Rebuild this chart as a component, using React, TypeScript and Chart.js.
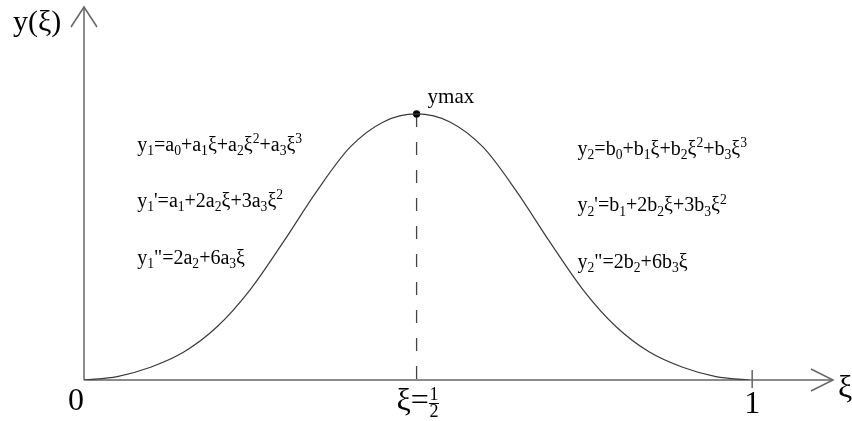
import { useEffect, useRef } from 'react';
import { Chart, registerables } from 'chart.js';

Chart.register(...registerables);

// ---- data (ξ in [0,1], y as a fraction of ymax) ----
const XI = [0, 0.05, 0.1, 0.15, 0.2, 0.25, 0.3, 0.35, 0.4, 0.45, 0.5, 0.55, 0.6, 0.65, 0.7, 0.75, 0.8, 0.85, 0.9, 0.95, 1];
const Y = [0, 0.013, 0.048, 0.105, 0.2, 0.34, 0.52, 0.71, 0.875, 0.97, 1, 0.97, 0.875, 0.71, 0.52, 0.34, 0.2, 0.105, 0.048, 0.013, 0];

// axis extents (arrow tips) in data units
const XI_AXIS_MAX = 1.126;
const Y_AXIS_MAX = 1.402;

// texts
const Y_AXIS_LABEL = 'y(ξ)';
const X_AXIS_LABEL = 'ξ';
const ORIGIN_LABEL = '0';
const END_LABEL = '1';
const MID_LABEL = 'ξ=';
const MID_FRAC = ['1', '2'];
const PEAK_LABEL = 'ymax';
const LEFT_FORMULAS = ['y_1=a_0+a_1ξ+a_2ξ^2+a_3ξ^3', "y_1'=a_1+2a_2ξ+3a_3ξ^2", 'y_1"=2a_2+6a_3ξ'];
const RIGHT_FORMULAS = ['y_2=b_0+b_1ξ+b_2ξ^2+b_3ξ^3', "y_2'=b_1+2b_2ξ+3b_3ξ^2", 'y_2"=2b_2+6b_3ξ'];

// annotation anchors in data coordinates
const LEFT_ANCHOR_XI = 0.08;
const LEFT_BASE_Y = [0.861, 0.65, 0.436];
const RIGHT_ANCHOR_XI = 0.742;
const RIGHT_BASE_Y = [0.846, 0.634, 0.421];

const FONT = '"Liberation Serif", "Times New Roman", serif';

function drawRich(ctx: CanvasRenderingContext2D, s: string, x: number, y: number, size: number) {
  let cx = x;
  for (let i = 0; i < s.length; i++) {
    let ch = s[i];
    let mode = 0;
    if ((ch === '_' || ch === '^') && i + 1 < s.length) {
      mode = ch === '_' ? 1 : 2;
      ch = s[++i];
    }
    const fs = mode ? size * 0.68 : size;
    ctx.font = `${fs}px ${FONT}`;
    const dy = mode === 1 ? size * 0.22 : mode === 2 ? -size * 0.38 : 0;
    ctx.fillText(ch, cx, y + dy);
    cx += ctx.measureText(ch).width;
  }
}

const annotPlugin = {
  id: 'annot',
  beforeDatasetsDraw(chart: any) {
    const { ctx, scales } = chart;
    const xs = scales.x;
    const ys = scales.y;
    const x0 = xs.getPixelForValue(0);
    const y0 = ys.getPixelForValue(0);
    const xEnd = xs.getPixelForValue(XI_AXIS_MAX);
    const yEnd = ys.getPixelForValue(Y_AXIS_MAX);
    ctx.save();
    ctx.strokeStyle = '#666';
    ctx.lineWidth = 1.5;
    ctx.lineCap = 'butt';
    // axes
    ctx.beginPath();
    ctx.moveTo(x0, y0);
    ctx.lineTo(x0, yEnd);
    ctx.moveTo(x0, y0);
    ctx.lineTo(xEnd, y0);
    ctx.stroke();
    // arrow heads (open)
    ctx.beginPath();
    ctx.moveTo(x0 - 13, yEnd + 20);
    ctx.lineTo(x0, yEnd);
    ctx.lineTo(x0 + 13, yEnd + 20);
    ctx.moveTo(xEnd - 22, y0 - 11);
    ctx.lineTo(xEnd, y0);
    ctx.lineTo(xEnd - 22, y0 + 11);
    ctx.stroke();
    // tick at ξ = 1
    const x1 = xs.getPixelForValue(XI[XI.length - 1]);
    ctx.beginPath();
    ctx.moveTo(x1 + 3, y0 - 10);
    ctx.lineTo(x1 + 3, y0 + 8);
    ctx.stroke();
    // dashed line from peak
    const peakIdx = Y.indexOf(Math.max(...Y));
    const px = xs.getPixelForValue(XI[peakIdx]);
    const py = ys.getPixelForValue(Y[peakIdx]);
    ctx.strokeStyle = '#444';
    ctx.lineWidth = 1.3;
    ctx.setLineDash([13, 15]);
    ctx.beginPath();
    ctx.moveTo(px, py);
    ctx.lineTo(px, y0);
    ctx.stroke();
    ctx.setLineDash([]);
    ctx.restore();
  },
  afterDatasetsDraw(chart: any) {
    const { ctx, scales } = chart;
    const xs = scales.x;
    const ys = scales.y;
    const x0 = xs.getPixelForValue(0);
    const y0 = ys.getPixelForValue(0);
    const xEnd = xs.getPixelForValue(XI_AXIS_MAX);
    const peakIdx = Y.indexOf(Math.max(...Y));
    const px = xs.getPixelForValue(XI[peakIdx]);
    const py = ys.getPixelForValue(Y[peakIdx]);
    const x1 = xs.getPixelForValue(XI[XI.length - 1]);
    ctx.save();
    ctx.fillStyle = '#000';
    ctx.textBaseline = 'alphabetic';
    ctx.textAlign = 'left';
    // y axis label
    ctx.font = `30px ${FONT}`;
    ctx.fillText(Y_AXIS_LABEL, 13, 31);
    // x axis label
    ctx.font = `32px ${FONT}`;
    ctx.fillText(X_AXIS_LABEL, xEnd + 5, y0 + 17);
    // origin and 1
    ctx.textAlign = 'center';
    ctx.fillText(ORIGIN_LABEL, x0 - 8, y0 + 30);
    ctx.fillText(END_LABEL, x1 + 3, y0 + 33);
    // ξ = 1/2
    ctx.textAlign = 'left';
    ctx.fillText(MID_LABEL, px - 20, y0 + 30);
    const mw = ctx.measureText(MID_LABEL).width;
    const fx = px - 20 + mw + 5;
    ctx.font = `18px ${FONT}`;
    ctx.textAlign = 'center';
    ctx.fillText(MID_FRAC[0], fx, y0 + 20);
    ctx.fillText(MID_FRAC[1], fx, y0 + 37);
    ctx.strokeStyle = '#000';
    ctx.lineWidth = 1;
    ctx.beginPath();
    ctx.moveTo(fx - 5, y0 + 23.5);
    ctx.lineTo(fx + 5, y0 + 23.5);
    ctx.stroke();
    // ymax
    ctx.textAlign = 'left';
    ctx.font = `21px ${FONT}`;
    ctx.fillText(PEAK_LABEL, px + 11, py - 11);
    // formulas
    LEFT_FORMULAS.forEach((f, i) => {
      drawRich(ctx, f, xs.getPixelForValue(LEFT_ANCHOR_XI), ys.getPixelForValue(LEFT_BASE_Y[i]), 20);
    });
    RIGHT_FORMULAS.forEach((f, i) => {
      drawRich(ctx, f, xs.getPixelForValue(RIGHT_ANCHOR_XI), ys.getPixelForValue(RIGHT_BASE_Y[i]), 20);
    });
    ctx.restore();
  },
};

export default function App() {
  const ref = useRef<HTMLCanvasElement>(null);
  useEffect(() => {
    const canvas = ref.current;
    if (!canvas) return;
    const peakIdx = Y.indexOf(Math.max(...Y));
    const chart = new Chart(canvas, {
      type: 'scatter',
      data: {
        datasets: [
          {
            data: XI.map((x, i) => ({ x, y: Y[i] })),
            showLine: true,
            borderColor: '#3a3a3a',
            borderWidth: 1.2,
            pointRadius: 0,
            cubicInterpolationMode: 'monotone',
            fill: false,
          } as any,
          {
            data: [{ x: XI[peakIdx], y: Y[peakIdx] }],
            pointRadius: 3.6,
            pointBackgroundColor: '#000',
            pointBorderColor: '#000',
            pointBorderWidth: 0,
            showLine: false,
          },
        ],
      },
      options: {
        responsive: false,
        animation: false,
        events: [],
        layout: { padding: { left: 84, right: 19, top: 7, bottom: 41 } },
        plugins: { legend: { display: false }, tooltip: { enabled: false } },
        scales: {
          x: { type: 'linear', min: 0, max: XI_AXIS_MAX, display: false },
          y: { type: 'linear', min: 0, max: Y_AXIS_MAX, display: false },
        },
      },
      plugins: [annotPlugin],
    });
    return () => chart.destroy();
  }, []);
  return (
    <div style={{ position: 'fixed', left: 0, top: 0, width: 852, height: 421, background: '#fff' }}>
      <canvas ref={ref} width={852} height={421} style={{ width: 852, height: 421, display: 'block' }} />
    </div>
  );
}
